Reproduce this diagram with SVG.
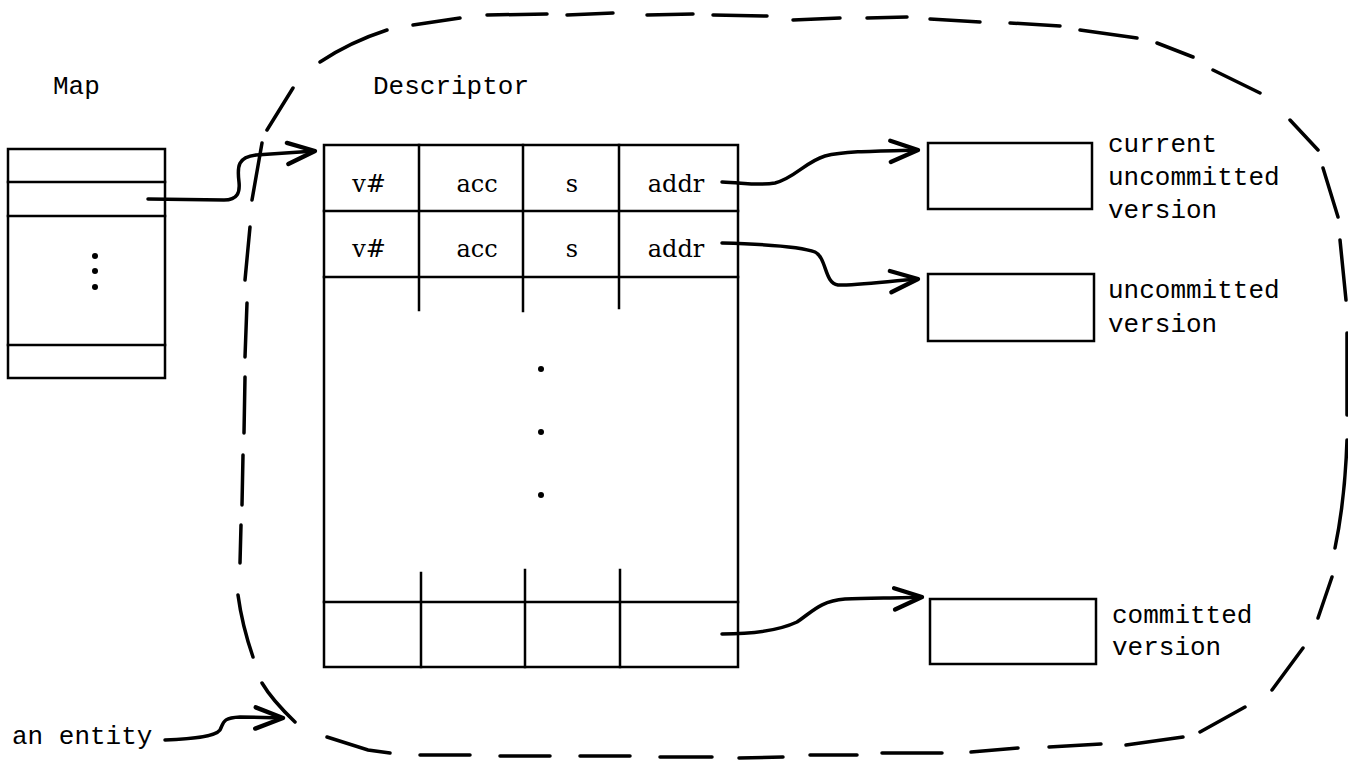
<svg xmlns="http://www.w3.org/2000/svg" width="1348" height="762" viewBox="0 0 1348 762">
  <defs>
    <style>
      .box { fill: none; stroke: #000; stroke-width: 2.5; }
      .ln { fill: none; stroke: #000; stroke-width: 2.5; stroke-linecap: square; }
      .mono { font-family: "Liberation Mono", "DejaVu Sans Mono", monospace; font-size: 26px; fill: #000; }
      .cell { font-family: "DejaVu Serif", "Liberation Serif", serif; font-size: 24px; fill: #000; text-anchor: middle; }
      .dash { fill: none; stroke: #000; stroke-width: 3.5; stroke-linecap: round; }
      .arrow { fill: none; stroke: #000; stroke-width: 3.5; stroke-linecap: round; stroke-linejoin: round; marker-end: url(#ah); }
    </style>
    <marker id="ah" markerUnits="userSpaceOnUse" markerWidth="40" markerHeight="40" viewBox="-24 -16 30 32" refX="0" refY="0" orient="auto" overflow="visible">
      <path d="M-22,-8 L0,0 L-22,9" fill="none" stroke="#000" stroke-width="3.5" stroke-linecap="round" stroke-linejoin="round"/>
    </marker>
  </defs>
  <rect width="1348" height="762" fill="#fff"/>

  <g id="entity">
    <path class="dash" d="M293,88 L267,130
      M320,62 Q350,42 387,30
      M413,25 L460,18
      M487,15 L547,14
      M567,15 L613,13
      M647,15 L693,14
      M713,15 L767,16
      M793,20 L840,18
      M867,18 L907,17
      M930,19 L980,22
      M1010,23 L1060,26
      M1080,30 L1137,38
      M1157,43 L1193,57
      M1213,70 L1260,93
      M1290,120 L1318,150
      M1323,168 L1338,217
      M1340,240 L1346,300
      M1347,333 L1347,415
      M1347,440 Q1345,500 1335,548
      M1332,577 L1318,618
      M1303,648 L1272,690
      M1245,707 L1200,732
      M1183,737 L1126,745
      M1101,744 L1049,747
      M1018,748 L971,752
      M942,753 L882,753
      M857,755 L810,755
      M783,757 L739,758
      M712,757 L660,757
      M630,756 L580,756
      M550,756 L500,756
      M470,755 L420,755
      M390,753 L368,750 L327,737
      M295,722 Q272,700 262,683
      M253,657 Q242,625 238,595
      M240,563 L241,525
      M242,505 L243,455
      M244,433 L245,377
      M245,357 L247,303
      M245,280 L250,227
      M252,200 L262,143"/>
  </g>

  <g id="map">
    <text class="mono" x="53" y="94">Map</text>
    <rect class="box" x="8" y="149" width="157" height="229"/>
    <path class="ln" d="M8,182 H165 M8,216 H165 M8,345 H165"/>
    <circle cx="95" cy="256" r="3" fill="#000"/>
    <circle cx="95" cy="271" r="3" fill="#000"/>
    <circle cx="95" cy="287" r="3" fill="#000"/>
  </g>

  <g id="descriptor">
    <text class="mono" x="373" y="94">Descriptor</text>
    <rect class="box" x="324" y="145" width="414" height="522"/>
    <path class="ln" d="M324,211 H738 M324,277 H738 M324,602 H738"/>
    <path class="ln" d="M419,145 V310 M523,145 V311 M619,145 V308"/>
    <path class="ln" d="M421,573 V667 M525,570 V667 M620,570 V667"/>
    <text class="cell" x="369" y="192">v#</text>
    <text class="cell" x="477" y="192">acc</text>
    <text class="cell" x="572" y="192">s</text>
    <text class="cell" x="676" y="192">addr</text>
    <text class="cell" x="369" y="257">v#</text>
    <text class="cell" x="477" y="257">acc</text>
    <text class="cell" x="572" y="257">s</text>
    <text class="cell" x="676" y="257">addr</text>
    <circle cx="541" cy="369" r="3" fill="#000"/>
    <circle cx="541" cy="432" r="3" fill="#000"/>
    <circle cx="541" cy="495" r="3" fill="#000"/>
  </g>

  <g id="version-current">
    <rect class="box" x="928" y="143" width="164" height="66"/>
    <text class="mono" x="1108" y="152">current</text>
    <text class="mono" x="1108" y="185">uncommitted</text>
    <text class="mono" x="1108" y="218">version</text>
  </g>

  <g id="version-uncommitted">
    <rect class="box" x="928" y="274" width="166" height="67"/>
    <text class="mono" x="1108" y="298">uncommitted</text>
    <text class="mono" x="1108" y="332">version</text>
  </g>

  <g id="version-committed">
    <rect class="box" x="930" y="599" width="166" height="65"/>
    <text class="mono" x="1112" y="623">committed</text>
    <text class="mono" x="1112" y="655">version</text>
  </g>

  <g id="entity-label">
    <text class="mono" x="12" y="744">an entity</text>
  </g>

  <g id="connectors">
    <path class="arrow" d="M148,199 L224,200 C238,200 240,192 239,182 C237,166 238,157 256,155 L315,151"/>
    <path class="arrow" d="M722,182 C745,183 760,186 775,183 C795,178 805,162 825,156 C845,151 880,151 918,150"/>
    <path class="arrow" d="M722,243 C760,244 800,246 815,252 C827,258 824,283 838,285 C860,285 890,281 918,279"/>
    <path class="arrow" d="M722,634 C755,634 780,630 797,622 C812,612 820,601 845,599 C870,598 900,598 922,597"/>
    <path class="arrow" d="M165,740 C190,739 215,737 220,730 C224,722 222,718 240,717 L283,718"/>
  </g>
</svg>
